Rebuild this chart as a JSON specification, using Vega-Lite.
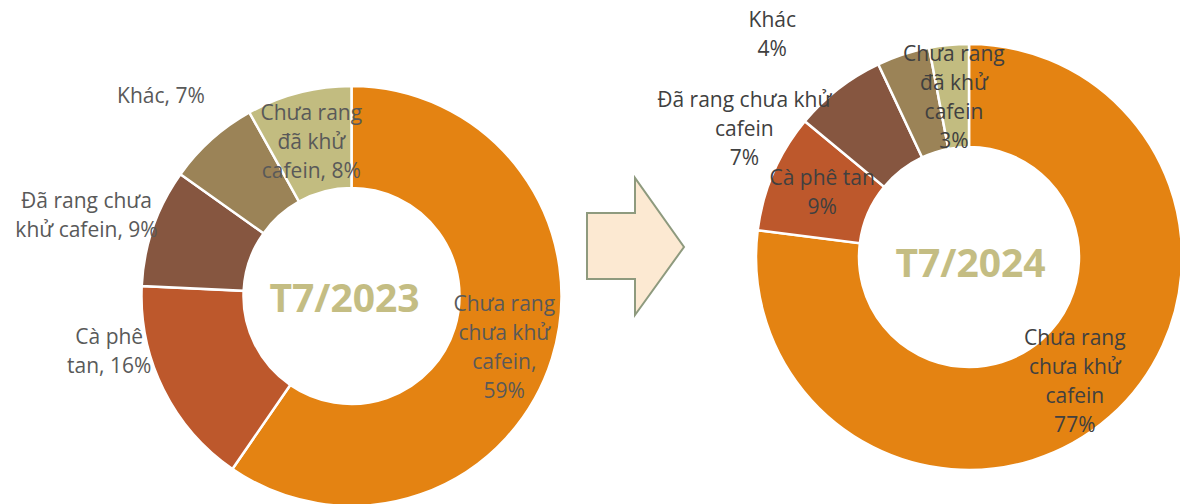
{
  "$schema": "https://vega.github.io/schema/vega-lite/v6.json",
  "width": 1180,
  "height": 504,
  "padding": 0,
  "autosize": {"type": "none"},
  "background": "white",
  "config": {"view": {"stroke": null}},
  "datasets": {
    "shares": [
      {"chart": "T7/2023", "rank": 1, "cat": "Chưa rang chưa khử cafein", "value": 59, "label": "Chưa rang\nchưa khử\ncafein,\n59%"},
      {"chart": "T7/2023", "rank": 2, "cat": "Cà phê tan", "value": 16, "label": "Cà phê\ntan, 16%"},
      {"chart": "T7/2023", "rank": 3, "cat": "Đã rang chưa khử cafein", "value": 9, "label": "Đã rang chưa\nkhử cafein, 9%"},
      {"chart": "T7/2023", "rank": 4, "cat": "Khác", "value": 7, "label": "Khác, 7%"},
      {"chart": "T7/2023", "rank": 5, "cat": "Chưa rang đã khử cafein", "value": 8, "label": "Chưa rang\nđã khử\ncafein, 8%"},
      {"chart": "T7/2024", "rank": 1, "cat": "Chưa rang chưa khử cafein", "value": 77, "label": "Chưa rang\nchưa khử\ncafein\n77%"},
      {"chart": "T7/2024", "rank": 2, "cat": "Cà phê tan", "value": 9, "label": "Cà phê tan\n9%"},
      {"chart": "T7/2024", "rank": 3, "cat": "Đã rang chưa khử cafein", "value": 7, "label": "Đã rang chưa khử\ncafein\n7%"},
      {"chart": "T7/2024", "rank": 4, "cat": "Khác", "value": 4, "label": "Khác\n4%"},
      {"chart": "T7/2024", "rank": 5, "cat": "Chưa rang đã khử cafein", "value": 3, "label": "Chưa rang\nđã khử\ncafein\n3%"}
    ]
  },
  "data": {"name": "shares"},
  "layer": [
    {
      "data": {"values": [{"shape": "arrow"}]},
      "mark": {"type": "point", "shape": "M-3,-39L45,-39L45,-74L94,-5L45,63L45,27L-3,27Z", "size": 4, "filled": true, "fill": "#FCE9D2", "stroke": "#8E9A7E", "strokeWidth": 2, "opacity": 1, "strokeJoin": "miter"},
      "encoding": {}
    },
    {
      "transform": [{"filter": "datum.chart === 'T7/2023' && datum.rank === 1"}],
      "mark": {"type": "text", "font": "Open Sans", "fontWeight": "bold", "fontSize": 39, "fill": "#C4BD83", "align": "center", "baseline": "middle", "dx": -7, "dy": 4},
      "encoding": {
        "x": {"field": "chart", "type": "nominal", "scale": {"type": "point", "domain": ["T7/2023", "T7/2024"], "range": [351.5, 969], "padding": 0}, "axis": null},
        "y": {"field": "chart", "type": "nominal", "scale": {"type": "point", "domain": ["T7/2023", "T7/2024"], "range": [296, 257], "padding": 0}, "axis": null},
        "text": {"field": "chart"}
      }
    },
    {
      "transform": [{"filter": "datum.chart === 'T7/2024' && datum.rank === 1"}],
      "mark": {"type": "text", "font": "Open Sans", "fontWeight": "bold", "fontSize": 39, "fill": "#C4BD83", "align": "center", "baseline": "middle", "dx": 1.5, "dy": 8},
      "encoding": {
        "x": {"field": "chart", "type": "nominal", "scale": {"type": "point", "domain": ["T7/2023", "T7/2024"], "range": [351.5, 969], "padding": 0}, "axis": null},
        "y": {"field": "chart", "type": "nominal", "scale": {"type": "point", "domain": ["T7/2023", "T7/2024"], "range": [296, 257], "padding": 0}, "axis": null},
        "text": {"field": "chart"}
      }
    },
    {
      "encoding": {
        "x": {"field": "chart", "type": "nominal", "scale": {"type": "point", "domain": ["T7/2023", "T7/2024"], "range": [351.5, 969], "padding": 0}, "axis": null},
        "y": {"field": "chart", "type": "nominal", "scale": {"type": "point", "domain": ["T7/2023", "T7/2024"], "range": [296, 257], "padding": 0}, "axis": null},
        "theta": {"field": "value", "type": "quantitative", "stack": "normalize"},
        "order": {"field": "rank", "type": "quantitative"}
      },
      "layer": [
        {
          "transform": [{"filter": "datum.chart === 'T7/2023'"}],
          "mark": {"type": "arc", "innerRadius": 108, "outerRadius": 210, "stroke": "white", "strokeWidth": 2.5},
          "encoding": {
            "color": {"field": "cat", "type": "nominal", "legend": null, "scale": {"domain": ["Chưa rang chưa khử cafein", "Cà phê tan", "Đã rang chưa khử cafein", "Khác", "Chưa rang đã khử cafein"], "range": ["#E48312", "#BD582C", "#865640", "#9B8357", "#C2BC80"]}}
          }
        },
        {
          "transform": [{"filter": "datum.chart === 'T7/2024'"}],
          "mark": {"type": "arc", "innerRadius": 110, "outerRadius": 213, "stroke": "white", "strokeWidth": 2.5},
          "encoding": {
            "color": {"field": "cat", "type": "nominal", "legend": null, "scale": {"domain": ["Chưa rang chưa khử cafein", "Cà phê tan", "Đã rang chưa khử cafein", "Khác", "Chưa rang đã khử cafein"], "range": ["#E48312", "#BD582C", "#865640", "#9B8357", "#C2BC80"]}}
          }
        },
        {
          "transform": [{"filter": "datum.chart === 'T7/2023'"}],
          "mark": {"type": "text", "radius": 160, "font": "Open Sans", "fontSize": 21, "lineHeight": 29, "lineBreak": "\n", "fill": "#595959", "align": "center", "baseline": "middle", "dy": -38.5},
          "encoding": {"text": {"condition": {"test": "datum.rank === 1", "field": "label"}, "value": ""}}
        },
        {
          "transform": [{"filter": "datum.chart === 'T7/2023'"}],
          "mark": {"type": "text", "radius": 160, "font": "Open Sans", "fontSize": 21, "lineHeight": 29, "lineBreak": "\n", "fill": "#595959", "align": "center", "baseline": "middle", "dy": -27},
          "encoding": {"text": {"condition": {"test": "datum.rank === 5", "field": "label"}, "value": ""}}
        },
        {
          "transform": [{"filter": "datum.chart === 'T7/2023'"}],
          "mark": {"type": "text", "radius": 242.5, "font": "Open Sans", "fontSize": 21, "lineHeight": 29, "lineBreak": "\n", "fill": "#595959", "align": "center", "baseline": "middle", "dx": -25, "dy": -65.5},
          "encoding": {"text": {"condition": {"test": "datum.rank === 2", "field": "label"}, "value": ""}}
        },
        {
          "transform": [{"filter": "datum.chart === 'T7/2023'"}],
          "mark": {"type": "text", "radius": 276.6, "font": "Open Sans", "fontSize": 21, "lineHeight": 29, "lineBreak": "\n", "fill": "#595959", "align": "center", "baseline": "middle", "dx": -3.6, "dy": -4},
          "encoding": {"text": {"condition": {"test": "datum.rank === 3", "field": "label"}, "value": ""}}
        },
        {
          "transform": [{"filter": "datum.chart === 'T7/2023'"}],
          "mark": {"type": "text", "radius": 275.3, "font": "Open Sans", "fontSize": 21, "lineHeight": 29, "lineBreak": "\n", "fill": "#595959", "align": "center", "baseline": "middle", "dx": -7, "dy": 6},
          "encoding": {"text": {"condition": {"test": "datum.rank === 4", "field": "label"}, "value": ""}}
        },
        {
          "transform": [{"filter": "datum.chart === 'T7/2024'"}],
          "mark": {"type": "text", "radius": 160, "font": "Open Sans", "fontSize": 21, "lineHeight": 29, "lineBreak": "\n", "fill": "#404040", "align": "center", "baseline": "middle", "dy": -38.5},
          "encoding": {"text": {"condition": {"test": "datum.rank === 1", "field": "label"}, "value": ""}}
        },
        {
          "transform": [{"filter": "datum.chart === 'T7/2024'"}],
          "mark": {"type": "text", "radius": 160, "font": "Open Sans", "fontSize": 21, "lineHeight": 29, "lineBreak": "\n", "fill": "#404040", "align": "center", "baseline": "middle", "dy": -43},
          "encoding": {"text": {"condition": {"test": "datum.rank === 5", "field": "label"}, "value": ""}}
        },
        {
          "transform": [{"filter": "datum.chart === 'T7/2024'"}],
          "mark": {"type": "text", "radius": 160, "font": "Open Sans", "fontSize": 21, "lineHeight": 29, "lineBreak": "\n", "fill": "#404040", "align": "center", "baseline": "middle", "dy": -14},
          "encoding": {"text": {"condition": {"test": "datum.rank === 2", "field": "label"}, "value": ""}}
        },
        {
          "transform": [{"filter": "datum.chart === 'T7/2024'"}],
          "mark": {"type": "text", "radius": 238, "font": "Open Sans", "fontSize": 21, "lineHeight": 29, "lineBreak": "\n", "fill": "#404040", "align": "center", "baseline": "middle", "dx": -78.8, "dy": 32},
          "encoding": {"text": {"condition": {"test": "datum.rank === 3", "field": "label"}, "value": ""}}
        },
        {
          "transform": [{"filter": "datum.chart === 'T7/2024'"}],
          "mark": {"type": "text", "radius": 271, "font": "Open Sans", "fontSize": 21, "lineHeight": 29, "lineBreak": "\n", "fill": "#404040", "align": "center", "baseline": "middle", "dx": -113, "dy": 22.2},
          "encoding": {"text": {"condition": {"test": "datum.rank === 4", "field": "label"}, "value": ""}}
        }
      ]
    }
  ]
}
